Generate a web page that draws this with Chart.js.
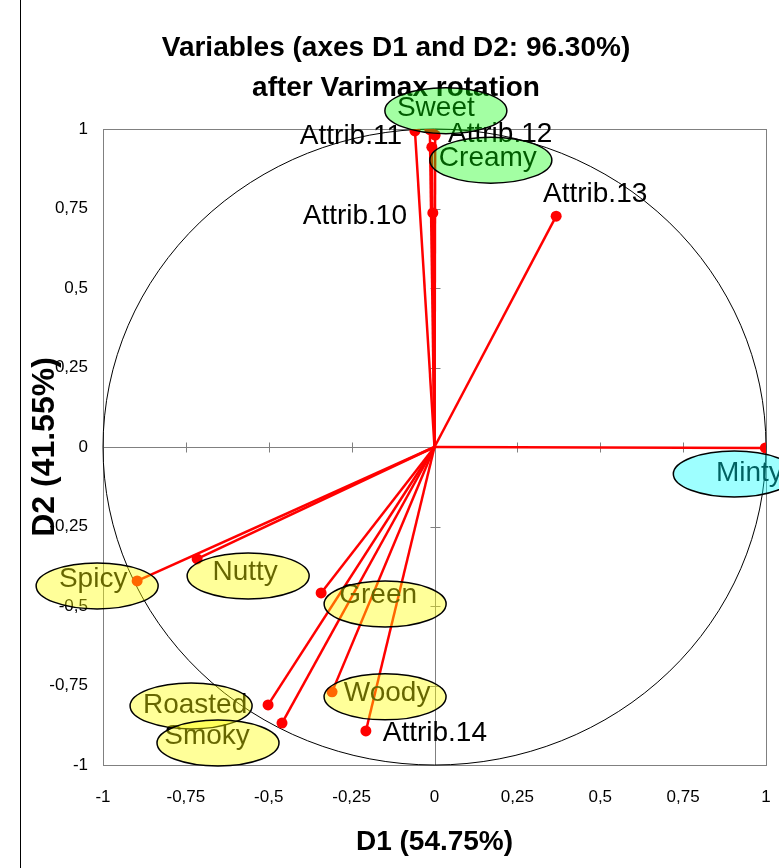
<!DOCTYPE html>
<html><head><meta charset="utf-8">
<script src="https://cdn.jsdelivr.net/npm/chart.js@4/dist/chart.umd.min.js"></script>
<style>html,body{margin:0;padding:0;background:#fff}</style>
</head><body>
<canvas id="c" width="779" height="868"></canvas>
<script>
// ---- data ----
const variables = ['Attrib.10','Attrib.11','Attrib.12','Attrib.13','Attrib.14','Sweet','Creamy','Minty','Spicy','Nutty','Green','Roasted','Smoky','Woody'];
const d1 = [-0.005,-0.059, 0.002, 0.367,-0.207,-0.014,-0.008, 0.998,-0.897,-0.716,-0.342,-0.502,-0.460,-0.309];
const d2 = [ 0.736, 0.994, 0.981, 0.726,-0.893, 0.998, 0.943,-0.003,-0.421,-0.352,-0.459,-0.811,-0.868,-0.770];
const groups = ['plain','plain','plain','plain','plain','green','green','cyan','yellow','yellow','yellow','yellow','yellow','yellow'];
const tickValues = [-1,-0.75,-0.5,-0.25,0,0.25,0.5,0.75,1];
const titleLines = ['Variables (axes D1 and D2: 96.30%)','after Varimax rotation'];
const xTitle = 'D1 (54.75%)';
const yTitle = 'D2 (41.55%)';

// ---- styling (label offsets in pixels from the point; text offsets inside ellipse) ----
const labelOffset = {
  'Attrib.10':[-78,3],'Attrib.11':[-64,5],'Attrib.12':[65,-1],'Attrib.13':[39,-22],'Attrib.14':[69,2],
  'Sweet':[16,-19],'Creamy':[59,13],'Minty':[-31,26],'Spicy':[-40,5],'Nutty':[51,17],
  'Green':[64,11],'Roasted':[-77,1],'Smoky':[-64,20],'Woody':[53,5]
};
const textShift = {
  'Sweet':[-10,-2],'Creamy':[-3,-2],'Minty':[15,-1],'Spicy':[-4,-7],'Nutty':[-3,-4],
  'Green':[-7,-9],'Roasted':[4,-1],'Smoky':[-11,-7],'Woody':[2,-4]
};
const fills = {yellow:'rgba(255,255,0,0.4)', green:'rgba(0,255,0,0.36)', cyan:'rgba(0,255,255,0.38)'};
const FONT = "'Liberation Sans', Arial, sans-serif";
const fmt = v => String(v).replace('.', ',');

const datasets = variables.map((name, i) => ({
  label: name,
  data: [{x:0, y:0}, {x:d1[i], y:d2[i]}],
  borderColor: '#ff0000',
  backgroundColor: '#ff0000',
  borderWidth: 2.5,
  pointRadius: [0, 5.5],
  pointBorderWidth: 0,
  showLine: true,
  tension: 0
}));

const decor = {
  id: 'decor',
  beforeDatasetsDraw(chart) {
    const {ctx, chartArea: a, scales: {x, y}} = chart;
    ctx.save();
    ctx.strokeStyle = '#000'; ctx.lineWidth = 1;
    ctx.beginPath(); ctx.moveTo(20.5, 0); ctx.lineTo(20.5, chart.height); ctx.stroke();
    ctx.strokeStyle = '#808080';
    ctx.strokeRect(Math.round(a.left)+0.5, Math.round(a.top)+0.5, Math.round(a.right-a.left), Math.round(a.bottom-a.top));
    const x0 = Math.round(x.getPixelForValue(0))+0.5, y0 = Math.round(y.getPixelForValue(0))+0.5;
    ctx.beginPath();
    ctx.moveTo(a.left, y0); ctx.lineTo(a.right, y0);
    ctx.moveTo(x0, a.top); ctx.lineTo(x0, a.bottom);
    tickValues.forEach(v => {
      const px = Math.round(x.getPixelForValue(v))+0.5;
      ctx.moveTo(px, y0-5); ctx.lineTo(px, y0+5);
      const py = Math.round(y.getPixelForValue(v))+0.5;
      ctx.moveTo(x0-5, py); ctx.lineTo(x0+5, py);
    });
    ctx.stroke();
    const cx = x.getPixelForValue(0), cy = y.getPixelForValue(0);
    const rx = x.getPixelForValue(1) - cx, ry = cy - y.getPixelForValue(1);
    ctx.strokeStyle = '#000'; ctx.lineWidth = 1;
    ctx.beginPath(); ctx.ellipse(cx, cy, rx, ry, 0, 0, Math.PI*2); ctx.stroke();
    ctx.restore();
  },
  afterDatasetsDraw(chart) {
    const {ctx, scales: {x, y}} = chart;
    ctx.save();
    ctx.font = '28px ' + FONT;
    ctx.textAlign = 'center'; ctx.textBaseline = 'middle';
    ctx.fillStyle = '#000';
    const pos = variables.map((n, i) => {
      const o = labelOffset[n];
      return [x.getPixelForValue(d1[i]) + o[0], y.getPixelForValue(d2[i]) + o[1]];
    });
    variables.forEach((n, i) => {
      const [px, py] = pos[i];
      const s = textShift[n] || [0, 0];
      ctx.fillText(n, px + s[0], py + s[1]);
    });
    variables.forEach((n, i) => {
      if (groups[i] === 'plain') return;
      const [px, py] = pos[i];
      ctx.beginPath();
      ctx.ellipse(px, py, 61, 23, 0, 0, Math.PI*2);
      ctx.fillStyle = fills[groups[i]];
      ctx.fill();
      ctx.strokeStyle = '#000'; ctx.lineWidth = 1.5;
      ctx.stroke();
    });
    ctx.restore();
  }
};

new Chart(document.getElementById('c'), {
  type: 'scatter',
  data: { datasets },
  options: {
    responsive: false,
    animation: false,
    devicePixelRatio: 1,
    layout: { padding: { left: 26, right: 13, top: 0, bottom: 0 } },
    plugins: {
      legend: { display: false },
      tooltip: { enabled: false },
      title: {
        display: true,
        text: titleLines,
        color: '#000',
        font: { family: FONT, size: 28, weight: 'bold', lineHeight: 40/28 },
        padding: { top: 28, bottom: 21 }
      }
    },
    scales: {
      x: {
        type: 'linear', min: -1, max: 1,
        afterBuildTicks: s => { s.ticks = tickValues.map(v => ({value: v})); },
        afterFit: s => { s.height = 103; s.paddingRight = 0; s.paddingLeft = 0; },
        grid: { display: false, drawTicks: false },
        border: { display: false },
        ticks: { color: '#000', padding: 22, maxRotation: 0, font: { family: FONT, size: 17 }, callback: fmt },
        title: { display: true, text: xTitle, color: '#000', padding: { top: 0, bottom: 9 },
                 font: { family: FONT, size: 28, weight: 'bold', lineHeight: 1.2 } }
      },
      y: {
        type: 'linear', min: -1, max: 1,
        afterBuildTicks: s => { s.ticks = tickValues.map(v => ({value: v})); },
        afterFit: s => { s.width = 77; },
        grid: { display: false, drawTicks: false },
        border: { display: false },
        ticks: { color: '#000', padding: 15, font: { family: FONT, size: 17 }, callback: fmt },
        title: { display: true, text: yTitle, color: '#000', padding: { top: 0, bottom: 0 },
                 font: { family: FONT, size: 32, weight: 'bold', lineHeight: 1.2 } }
      }
    }
  },
  plugins: [decor]
});
</script>
</body></html>
